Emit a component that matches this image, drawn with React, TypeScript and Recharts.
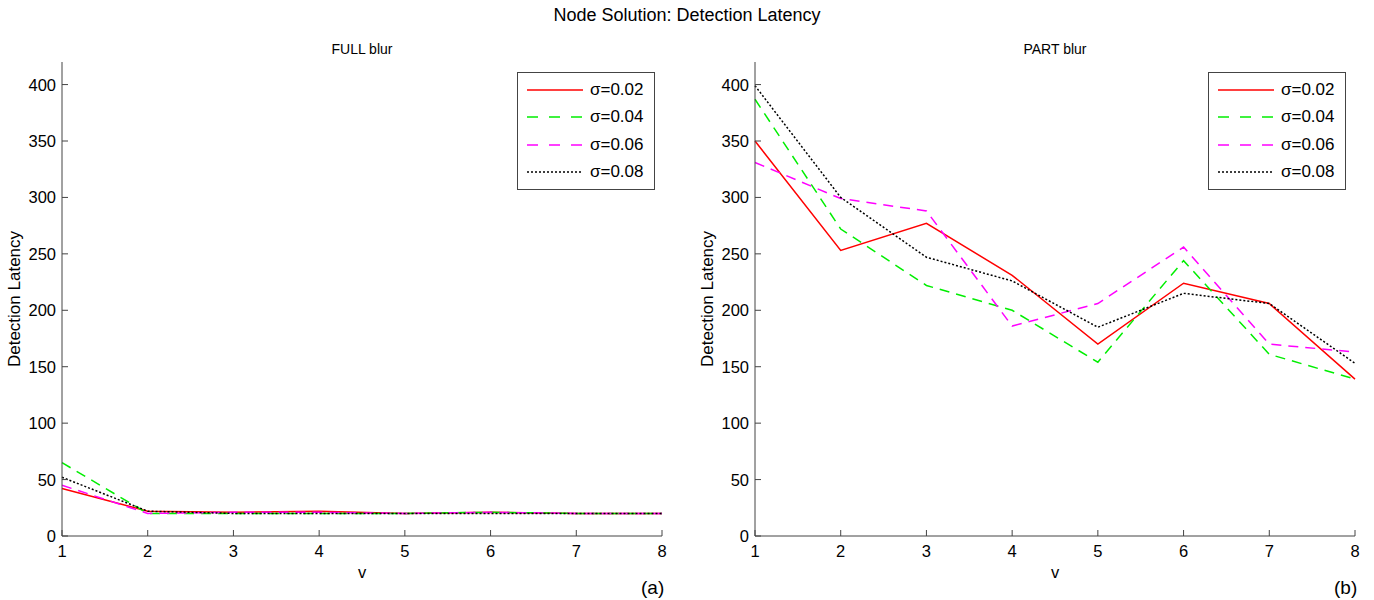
import React from "react";
import { LineChart, Line, XAxis, YAxis, Legend } from "recharts";

const vValues = [1, 2, 3, 4, 5, 6, 7, 8];
const yTicks = [0, 50, 100, 150, 200, 250, 300, 350, 400];

const fullS002 = [42, 22, 21, 22, 20, 21, 20, 20];
const fullS004 = [65, 20, 20, 20, 20, 21, 20, 20];
const fullS006 = [45, 20, 21, 21, 20, 21, 20, 20];
const fullS008 = [52, 22, 20, 20, 20, 20, 20, 20];

const partS002 = [350, 253, 277, 231, 170, 224, 206, 139];
const partS004 = [387, 272, 222, 200, 154, 244, 161, 139];
const partS006 = [331, 299, 288, 186, 206, 256, 170, 163];
const partS008 = [399, 300, 247, 226, 185, 215, 206, 153];

const seriesNames = ["σ=0.02", "σ=0.04", "σ=0.06", "σ=0.08"];

const FONT = "'Liberation Sans', Arial, Helvetica, sans-serif";
const AXIS = "#444";

const styles = [
  { key: "s002", color: "#ff0000", dash: undefined as string | undefined },
  { key: "s004", color: "#00ee00", dash: "10 7" },
  { key: "s006", color: "#ff00ff", dash: "10 7" },
  { key: "s008", color: "#000000", dash: "2 2" },
];

function buildRows(a: number[], b: number[], c: number[], d: number[]) {
  return vValues.map((v, i) => ({ v, s002: a[i], s004: b[i], s006: c[i], s008: d[i] }));
}

const fullData = buildRows(fullS002, fullS004, fullS006, fullS008);
const partData = buildRows(partS002, partS004, partS006, partS008);

const BottomTick = (props: any) => {
  const { x, y, payload } = props;
  return (
    <g>
      <line x1={x} y1={y - 8} x2={x} y2={y - 14} stroke={AXIS} />
      <text x={x} y={y} dy={13} textAnchor="middle" fill="#000" fontSize={16.5} fontFamily={FONT}>
        {payload.value}
      </text>
    </g>
  );
};

const LeftTick = (props: any) => {
  const { x, y, payload } = props;
  return (
    <g>
      <line x1={x + 6} y1={y} x2={x + 12} y2={y} stroke={AXIS} />
      <text x={x} y={y} dy={6} textAnchor="end" fill="#000" fontSize={16.5} fontFamily={FONT}>
        {payload.value}
      </text>
    </g>
  );
};

const NoLabel = () => <g />;

const LegendBox = () => (
  <div
    style={{
      border: `1px solid ${AXIS}`,
      background: "#fff",
      padding: "3px 0",
      fontFamily: FONT,
      fontSize: 17,
    }}
  >
    {styles.map((s, i) => (
      <div key={s.key} style={{ display: "flex", alignItems: "center", height: 27.5 }}>
        <svg width={72} height={10}>
          <line x1={9} y1={5} x2={65} y2={5} stroke={s.color} strokeWidth={1.5} strokeDasharray={s.dash === "10 7" ? "11 11" : s.dash} />
        </svg>
        <span>{seriesNames[i]}</span>
      </div>
    ))}
  </div>
);

function Panel({ data, yAxisWidth, marginRight, legendLeft }: { data: any[]; yAxisWidth: number; marginRight: number; legendLeft: number }) {
  return (
    <LineChart width={687} height={600} data={data} margin={{ top: 62, right: marginRight, left: 0, bottom: 0 }}>
      <XAxis
        dataKey="v"
        type="number"
        domain={[1, 8]}
        ticks={vValues}
        height={64}
        stroke={AXIS}
        tickSize={0}
        tickMargin={8}
        tick={<BottomTick />}
        label={{ value: "v", position: "insideTop", offset: 30, fill: "#000", fontSize: 16.5, fontFamily: FONT }}
      />
      <XAxis
        xAxisId="top"
        dataKey="v"
        type="number"
        orientation="top"
        mirror
        height={0}
        domain={[1, 8]}
        ticks={vValues}
        stroke={AXIS}
        tickSize={6}
        tick={<NoLabel />}
      />
      <YAxis
        type="number"
        domain={[0, 420]}
        ticks={yTicks}
        width={yAxisWidth}
        stroke={AXIS}
        tickSize={0}
        tickMargin={6}
        tick={<LeftTick />}
        label={{
          value: "Detection Latency",
          angle: -90,
          position: "insideLeft",
          offset: yAxisWidth - 48,
          fill: "#000",
          fontSize: 17,
          fontFamily: FONT,
          style: { textAnchor: "middle" },
        }}
      />
      <YAxis
        yAxisId="right"
        type="number"
        orientation="right"
        mirror
        width={0}
        domain={[0, 420]}
        ticks={yTicks}
        stroke={AXIS}
        tickSize={6}
        tick={<NoLabel />}
      />
      <Legend
        layout="vertical"
        align="center"
        verticalAlign="middle"
        wrapperStyle={{ left: legendLeft, top: 72, width: 138 }}
        content={<LegendBox />}
      />
      {styles.map((s, i) => (
        <Line
          key={s.key}
          dataKey={s.key}
          name={seriesNames[i]}
          stroke={s.color}
          strokeWidth={1.5}
          strokeDasharray={s.dash}
          dot={false}
          activeDot={false}
          isAnimationActive={false}
        />
      ))}
    </LineChart>
  );
}

const textStyle: React.CSSProperties = {
  position: "absolute",
  fontFamily: FONT,
  color: "#000",
  whiteSpace: "nowrap",
};

export default function App() {
  return (
    <div style={{ position: "absolute", left: 0, top: 0, width: 1374, height: 600, background: "#fff" }}>
      <div style={{ ...textStyle, left: 0, width: 1374, top: 5, textAlign: "center", fontSize: 18 }}>
        Node Solution: Detection Latency
      </div>
      <div style={{ ...textStyle, left: 62, width: 600, top: 41, textAlign: "center", fontSize: 14 }}>FULL blur</div>
      <div style={{ ...textStyle, left: 755, width: 600, top: 41, textAlign: "center", fontSize: 14 }}>PART blur</div>
      <div style={{ ...textStyle, left: 641, top: 577, fontSize: 19 }}>(a)</div>
      <div style={{ ...textStyle, left: 1334, top: 577, fontSize: 19 }}>(b)</div>
      <div style={{ position: "absolute", left: 0, top: 0 }}>
        <Panel data={fullData} yAxisWidth={62} marginRight={25} legendLeft={517} />
      </div>
      <div style={{ position: "absolute", left: 687, top: 0 }}>
        <Panel data={partData} yAxisWidth={68} marginRight={19} legendLeft={521} />
      </div>
    </div>
  );
}
